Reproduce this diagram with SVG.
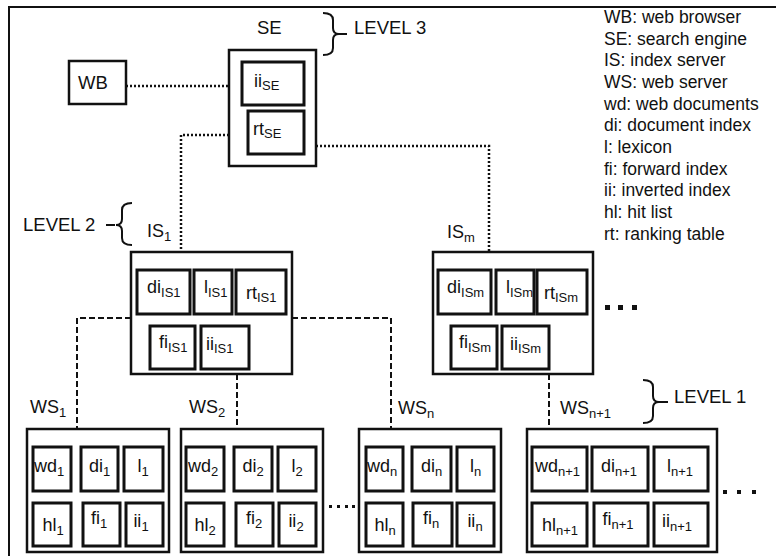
<svg xmlns="http://www.w3.org/2000/svg" width="776" height="556" viewBox="0 0 776 556">
<style>
text{font-family:"Liberation Sans",Arial,sans-serif;fill:#111}
.lbl{font-size:18px}
.big{font-size:18.5px}
.sub{font-size:13px}
.leg{font-size:17.5px}
.ob{fill:#fff;stroke:#111;stroke-width:2.5}
.ib{fill:#fff;stroke:#111;stroke-width:3}
.dot{fill:none;stroke:#111;stroke-width:2.5;stroke-dasharray:2 2}
.dash{fill:none;stroke:#111;stroke-width:2;stroke-dasharray:6 3}
.br{fill:none;stroke:#111;stroke-width:2}
.el{fill:#111}
</style>
<rect width="776" height="556" fill="#fff"/>
<path d="M9,556 L9,7 L776,7" fill="none" stroke="#111" stroke-width="2"/>

<g id="connectors">
<line class="dot" x1="126" y1="86" x2="229" y2="86"/>
<path class="dot" d="M229,135 L181,135 L181,252"/>
<path class="dot" d="M316,146 L489,146 L489,252"/>
<path class="dash" d="M131,318 L77,318 L77,429"/>
<path class="dash" d="M292,318 L391,318 L391,429"/>
<line class="dash" x1="237" y1="374" x2="237" y2="429"/>
<line class="dash" x1="549" y1="374" x2="549" y2="429"/>
</g>

<g id="levels">
<path class="br" d="M323,13 Q333,13 333,20 L333,28 Q333,34 339,34 L347,34 M339,34 Q333,34 333,40 L333,48 Q333,55 323,55"/>
<text class="big" x="354" y="34">LEVEL 3</text>
<path class="br" d="M132,203 Q122,203 122,210 L122,219 Q122,225 116,225 Q122,225 122,231 L122,238 Q122,245 132,245 M106,225 L115,225"/>
<text class="big" x="23" y="231">LEVEL 2</text>
<path class="br" d="M643,380 Q653,380 653,387 L653,396 Q653,402 659,402 L668,402 M659,402 Q653,402 653,408 L653,416 Q653,423 643,423"/>
<text class="big" x="674" y="403">LEVEL 1</text>
</g>

<g id="legend" class="leg">
<text class="leg" x="604" y="23">WB: web browser</text>
<text class="leg" x="604" y="44.7">SE: search engine</text>
<text class="leg" x="604" y="66.3">IS: index server</text>
<text class="leg" x="604" y="88">WS: web server</text>
<text class="leg" x="604" y="109.7">wd: web documents</text>
<text class="leg" x="604" y="131.3">di: document index</text>
<text class="leg" x="604" y="153">l: lexicon</text>
<text class="leg" x="604" y="174.7">fi: forward index</text>
<text class="leg" x="604" y="196.3">ii: inverted index</text>
<text class="leg" x="604" y="218">hl: hit list</text>
<text class="leg" x="604" y="239.7">rt: ranking table</text>
</g>

<g id="WB">
<rect class="ob" x="69" y="61" width="57" height="43"/>
<text class="big" x="78" y="89">WB</text>
</g>

<g id="SE">
<text class="big" x="257" y="34">SE</text>
<rect class="ob" x="229" y="50" width="87" height="116"/>
<rect class="ib" x="242" y="62" width="62" height="43"/>
<text class="lbl" x="254" y="87">ii<tspan class="sub" dy="3">SE</tspan></text>
<rect class="ib" x="248" y="111" width="56" height="43"/>
<text class="lbl" x="253" y="135">rt<tspan class="sub" dy="3">SE</tspan></text>
</g>

<g id="IS1">
<text class="lbl" x="147" y="237">IS<tspan class="sub" dy="4">1</tspan></text>
<rect class="ob" x="131" y="252" width="161" height="122"/>
<rect class="ib" x="137" y="270" width="53" height="44"/>
<text class="lbl" x="147" y="293">di<tspan class="sub" dy="4">IS1</tspan></text>
<rect class="ib" x="194" y="270" width="38" height="44"/>
<text class="lbl" x="204" y="293">l<tspan class="sub" dy="4">IS1</tspan></text>
<rect class="ib" x="236" y="270" width="50" height="44"/>
<text class="lbl" x="246" y="299">rt<tspan class="sub" dy="3">IS1</tspan></text>
<rect class="ib" x="150" y="326" width="45" height="43"/>
<text class="lbl" x="159" y="348">fi<tspan class="sub" dy="4">IS1</tspan></text>
<rect class="ib" x="201" y="326" width="48" height="43"/>
<text class="lbl" x="206" y="350">ii<tspan class="sub" dy="3">IS1</tspan></text>
</g>

<g id="ISm">
<text class="lbl" x="447" y="238">IS<tspan class="sub" dy="4">m</tspan></text>
<rect class="ob" x="433" y="252" width="160" height="122"/>
<rect class="ib" x="438" y="270" width="53" height="44"/>
<text class="lbl" x="447" y="293">di<tspan class="sub" dy="4">ISm</tspan></text>
<rect class="ib" x="496" y="270" width="38" height="44"/>
<text class="lbl" x="506" y="293">l<tspan class="sub" dy="4">ISm</tspan></text>
<rect class="ib" x="537" y="270" width="50" height="44"/>
<text class="lbl" x="544" y="299">rt<tspan class="sub" dy="3">ISm</tspan></text>
<rect class="ib" x="451" y="326" width="46" height="43"/>
<text class="lbl" x="459" y="348">fi<tspan class="sub" dy="4">ISm</tspan></text>
<rect class="ib" x="502" y="326" width="47" height="43"/>
<text class="lbl" x="510" y="350">ii<tspan class="sub" dy="3">ISm</tspan></text>
<rect class="el" x="605" y="305" width="5" height="5"/>
<rect class="el" x="618" y="305" width="5" height="5"/>
<rect class="el" x="632" y="305" width="5" height="5"/>
</g>

<g id="WS1">
<text class="lbl" x="30" y="413">WS<tspan class="sub" dy="4">1</tspan></text>
<rect class="ob" x="27" y="429" width="142" height="123"/>
<rect class="ib" x="33" y="447" width="38" height="44"/>
<text class="lbl" x="34" y="472">wd<tspan class="sub" dy="4">1</tspan></text>
<rect class="ib" x="81" y="447" width="37" height="44"/>
<text class="lbl" x="99.5" y="472" text-anchor="middle">di<tspan class="sub" dy="4">1</tspan></text>
<rect class="ib" x="124" y="447" width="39" height="44"/>
<text class="lbl" x="143" y="472" text-anchor="middle">l<tspan class="sub" dy="4">1</tspan></text>
<rect class="ib" x="33" y="503" width="38" height="43"/>
<text class="lbl" x="53" y="531" text-anchor="middle">hl<tspan class="sub" dy="4">1</tspan></text>
<rect class="ib" x="83" y="503" width="37" height="43"/>
<text class="lbl" x="99" y="524" text-anchor="middle">fi<tspan class="sub" dy="4">1</tspan></text>
<rect class="ib" x="126" y="503" width="37" height="43"/>
<text class="lbl" x="141" y="527" text-anchor="middle">ii<tspan class="sub" dy="4">1</tspan></text>
</g>

<g id="WS2">
<text class="lbl" x="189" y="413">WS<tspan class="sub" dy="4">2</tspan></text>
<rect class="ob" x="181" y="429" width="142" height="123"/>
<rect class="ib" x="186" y="447" width="38" height="44"/>
<text class="lbl" x="188" y="472">wd<tspan class="sub" dy="4">2</tspan></text>
<rect class="ib" x="234" y="447" width="38" height="44"/>
<text class="lbl" x="253" y="472" text-anchor="middle">di<tspan class="sub" dy="4">2</tspan></text>
<rect class="ib" x="278" y="447" width="38" height="44"/>
<text class="lbl" x="297" y="472" text-anchor="middle">l<tspan class="sub" dy="4">2</tspan></text>
<rect class="ib" x="186" y="503" width="38" height="43"/>
<text class="lbl" x="205" y="531" text-anchor="middle">hl<tspan class="sub" dy="4">2</tspan></text>
<rect class="ib" x="236" y="503" width="37" height="43"/>
<text class="lbl" x="254" y="524" text-anchor="middle">fi<tspan class="sub" dy="4">2</tspan></text>
<rect class="ib" x="279" y="503" width="37" height="43"/>
<text class="lbl" x="296" y="527" text-anchor="middle">ii<tspan class="sub" dy="4">2</tspan></text>
</g>

<g id="ellipsis-mid">
<rect class="el" x="329" y="505" width="3" height="3"/>
<rect class="el" x="337" y="505" width="3" height="3"/>
<rect class="el" x="345" y="505" width="3" height="3"/>
<rect class="el" x="352" y="505" width="3" height="3"/>
</g>

<g id="WSn">
<text class="lbl" x="398" y="414">WS<tspan class="sub" dy="4">n</tspan></text>
<rect class="ob" x="359" y="429" width="142" height="123"/>
<rect class="ib" x="366" y="447" width="37" height="44"/>
<text class="lbl" x="367" y="472">wd<tspan class="sub" dy="4">n</tspan></text>
<rect class="ib" x="412" y="447" width="39" height="44"/>
<text class="lbl" x="431.5" y="472" text-anchor="middle">di<tspan class="sub" dy="4">n</tspan></text>
<rect class="ib" x="457" y="447" width="37" height="44"/>
<text class="lbl" x="475.5" y="472" text-anchor="middle">l<tspan class="sub" dy="4">n</tspan></text>
<rect class="ib" x="366" y="503" width="37" height="43"/>
<text class="lbl" x="385" y="531" text-anchor="middle">hl<tspan class="sub" dy="4">n</tspan></text>
<rect class="ib" x="413" y="503" width="39" height="43"/>
<text class="lbl" x="431" y="524" text-anchor="middle">fi<tspan class="sub" dy="4">n</tspan></text>
<rect class="ib" x="457" y="503" width="37" height="43"/>
<text class="lbl" x="475" y="527" text-anchor="middle">ii<tspan class="sub" dy="4">n</tspan></text>
</g>

<g id="WSn1">
<text class="lbl" x="560" y="414">WS<tspan class="sub" dy="4">n+1</tspan></text>
<rect class="ob" x="527" y="429" width="190" height="123"/>
<rect class="ib" x="532" y="447" width="55" height="44"/>
<text class="lbl" x="535" y="472">wd<tspan class="sub" dy="4">n+1</tspan></text>
<rect class="ib" x="592" y="447" width="56" height="44"/>
<text class="lbl" x="619" y="472" text-anchor="middle">di<tspan class="sub" dy="4">n+1</tspan></text>
<rect class="ib" x="654" y="447" width="54" height="44"/>
<text class="lbl" x="680" y="472" text-anchor="middle">l<tspan class="sub" dy="4">n+1</tspan></text>
<rect class="ib" x="532" y="503" width="55" height="43"/>
<text class="lbl" x="560" y="531" text-anchor="middle">hl<tspan class="sub" dy="4">n+1</tspan></text>
<rect class="ib" x="594" y="503" width="54" height="43"/>
<text class="lbl" x="618" y="525" text-anchor="middle">fi<tspan class="sub" dy="4">n+1</tspan></text>
<rect class="ib" x="654" y="503" width="54" height="43"/>
<text class="lbl" x="677" y="527" text-anchor="middle">ii<tspan class="sub" dy="4">n+1</tspan></text>
<rect class="el" x="723" y="490" width="4" height="4"/>
<rect class="el" x="737" y="490" width="4" height="4"/>
<rect class="el" x="752" y="490" width="4" height="4"/>
</g>
</svg>
